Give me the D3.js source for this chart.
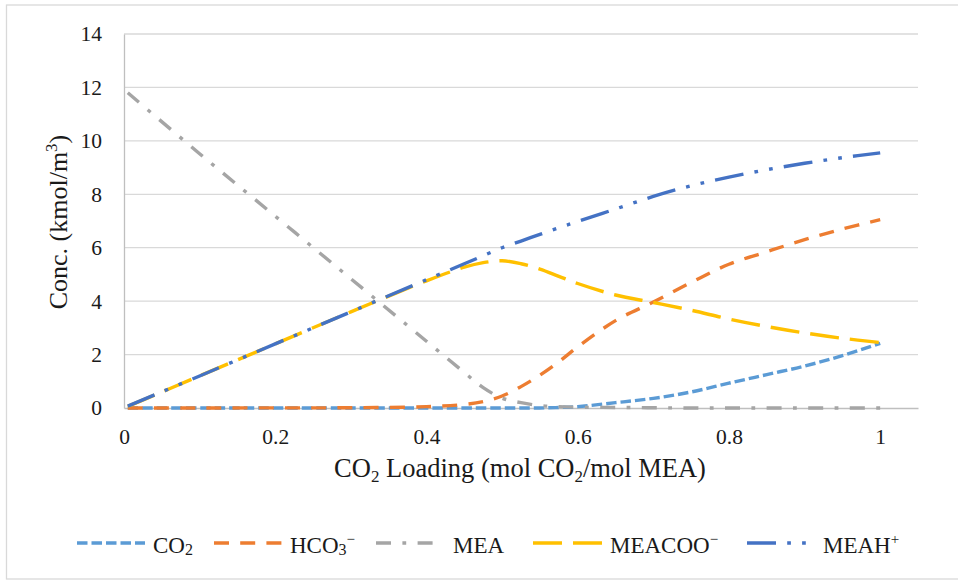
<!DOCTYPE html>
<html>
<head>
<meta charset="utf-8">
<script src="https://cdn.jsdelivr.net/npm/d3@7"></script>
<style>
  html, body { margin: 0; padding: 0; background: #fff; }
  svg { display: block; }
  text { font-family: "Liberation Serif", "Times New Roman", serif; fill: #1a1a1a; }
</style>
</head>
<body>
<svg id="chart" width="958" height="581"></svg>
<script>
// ---- data ----
const loading = [0.005, 0.1, 0.2, 0.3, 0.4, 0.45, 0.475, 0.5, 0.525, 0.55, 0.575, 0.6, 0.65, 0.7, 0.75, 0.8, 0.85, 0.9, 0.95, 1.0];
const co2    = [0, 0, 0, 0, 0, 0, 0, 0, 0, 0, 0.02, 0.05, 0.2, 0.36, 0.6, 0.93, 1.25, 1.57, 1.96, 2.42];
const hco3   = [0, 0, 0.005, 0.01, 0.05, 0.13, 0.24, 0.45, 0.8, 1.23, 1.73, 2.29, 3.27, 3.97, 4.7, 5.38, 5.85, 6.3, 6.7, 7.05];
const mea    = [11.8, 9.52, 7.18, 4.84, 2.5, 1.33, 0.76, 0.37, 0.2, 0.09, 0.05, 0.03, 0.02, 0.01, 0, 0, 0, 0, 0, 0];
const meacoo = [0.06, 1.2, 2.4, 3.6, 4.76, 5.27, 5.44, 5.51, 5.4, 5.2, 4.93, 4.66, 4.23, 3.95, 3.66, 3.33, 3.05, 2.81, 2.61, 2.45];
const meah   = [0.07, 1.2, 2.4, 3.6, 4.8, 5.4, 5.7, 6.0, 6.25, 6.5, 6.75, 6.98, 7.45, 7.92, 8.32, 8.64, 8.92, 9.16, 9.37, 9.55];
const seriesNames = ["CO2", "HCO3-", "MEA", "MEACOO-", "MEAH+"];
const xTicks = [0, 0.2, 0.4, 0.6, 0.8, 1];
const yTicks = [0, 2, 4, 6, 8, 10, 12, 14];

// ---- styles ----
const seriesDefs = [
  { name: seriesNames[0], values: co2, color: "#5B9BD5", dash: "10.5,4" },
  { name: seriesNames[1], values: hco3, color: "#ED7D31", dash: "15,11.2" },
  { name: seriesNames[2], values: mea, color: "#A5A5A5", dash: "15,11.4,3.8,11.4" },
  { name: seriesNames[3], values: meacoo, color: "#FFC000", dash: "29,11" },
  { name: seriesNames[4], values: meah, color: "#4472C4", dash: "29,11.2,3.7,11.2,3.7,11.2" }
];

const FONT = '"Liberation Serif", "Times New Roman", serif';
const svg = d3.select("#chart");
const W = 958, H = 581;
const m = { left: 124, top: 34, right: 40, bottom: 173 };
const plotW = W - m.left - m.right; // 794
const plotH = H - m.top - m.bottom; // 374

const x = d3.scaleLinear().domain([0, 1.05]).range([m.left, m.left + plotW]);
const y = d3.scaleLinear().domain([0, 14]).range([m.top + plotH, m.top]);

// outer frame (right side runs off the picture)
svg.append("rect").attr("x", 6.5).attr("y", 5).attr("width", 970).attr("height", 574)
  .attr("fill", "#fff").attr("stroke", "#d9d9d9").attr("stroke-width", 1.3);

// gridlines
svg.append("g").selectAll("line").data(yTicks.filter(d => d > 0)).join("line")
  .attr("x1", x(0)).attr("x2", x(1.05))
  .attr("y1", d => y(d)).attr("y2", d => y(d))
  .attr("stroke", "#d9d9d9").attr("stroke-width", 1.3);

// axes
const yAxis = d3.axisLeft(y).tickValues(yTicks).tickSize(0).tickPadding(22).tickFormat(d3.format("d"));
const gy = svg.append("g").attr("transform", `translate(${x(0)},0)`).call(yAxis);
gy.attr("font-family", null);
gy.select(".domain").attr("stroke", "#bfbfbf").attr("stroke-width", 1.3);
gy.selectAll("text").style("font-size", "21.5px").style("font-family", FONT).style("fill", "#1a1a1a");

const xAxis = d3.axisBottom(x).tickValues(xTicks).tickSize(0).tickPadding(21)
  .tickFormat(d => d === 0 ? "0" : d === 1 ? "1" : d3.format(".1f")(d));
const gx = svg.append("g").attr("transform", `translate(0,${y(0)})`).call(xAxis);
gx.attr("font-family", null);
gx.select(".domain").attr("stroke", "#bfbfbf").attr("stroke-width", 1.3);
gx.selectAll("text").style("font-size", "21.5px").style("font-family", FONT).style("fill", "#1a1a1a");

// series lines
const line = d3.line().curve(d3.curveCatmullRom.alpha(0.5));
const gLines = svg.append("g");
seriesDefs.forEach(s => {
  const pts = loading.map((lx, i) => [x(lx), y(s.values[i])]);
  gLines.append("path").attr("d", line(pts))
    .attr("fill", "none").attr("stroke", s.color).attr("stroke-width", 3.4)
    .attr("stroke-dasharray", s.dash).attr("stroke-linecap", "butt");
});

// axis titles
const xt = svg.append("text").attr("x", 520).attr("y", 477).attr("text-anchor", "middle").style("font-size", "26.5px");
xt.append("tspan").text("CO");
xt.append("tspan").style("font-size", "17px").attr("dy", 5).text("2");
xt.append("tspan").attr("dy", -5).text(" Loading (mol CO");
xt.append("tspan").style("font-size", "17px").attr("dy", 5).text("2");
xt.append("tspan").attr("dy", -5).text("/mol MEA)");

const yt = svg.append("text").attr("transform", "translate(67,222) rotate(-90)").attr("text-anchor", "middle").style("font-size", "26px");
yt.append("tspan").text("Conc. (kmol/m");
yt.append("tspan").style("font-size", "17px").attr("dy", -10).text("3");
yt.append("tspan").attr("dy", 10).text(")");

// legend
const legendItems = [
  { def: seriesDefs[0], x1: 77, x2: 145, tx: 153, parts: [["CO", 0, 23], ["2", 2, 16]] },
  { def: seriesDefs[1], x1: 214, x2: 282, tx: 290, parts: [["HCO", 0, 23], ["3", 2, 16], ["\u2212", -9, 15]] },
  { def: seriesDefs[2], x1: 376, x2: 433, tx: 453, parts: [["MEA", 0, 23]] },
  { def: seriesDefs[3], x1: 533, x2: 602, tx: 610, parts: [["MEACOO", 0, 23], ["\u2212", -9, 15]] },
  { def: seriesDefs[4], x1: 747, x2: 807, tx: 823, parts: [["MEAH", 0, 23], ["+", -9, 15]] }
];
const ly = 543;
const gLeg = svg.append("g");
legendItems.forEach(it => {
  gLeg.append("line").attr("x1", it.x1).attr("x2", it.x2).attr("y1", ly).attr("y2", ly)
    .attr("stroke", it.def.color).attr("stroke-width", 3.4)
    .attr("stroke-dasharray", it.def.dash).attr("stroke-linecap", "butt");
  const t = gLeg.append("text").attr("x", it.tx).attr("y", 553).style("font-size", "23px");
  let prev = 0;
  it.parts.forEach(([txt, off, fs]) => {
    t.append("tspan").style("font-size", fs + "px").attr("dy", off - prev).text(txt);
    prev = off;
  });
});
</script>
</body>
</html>
